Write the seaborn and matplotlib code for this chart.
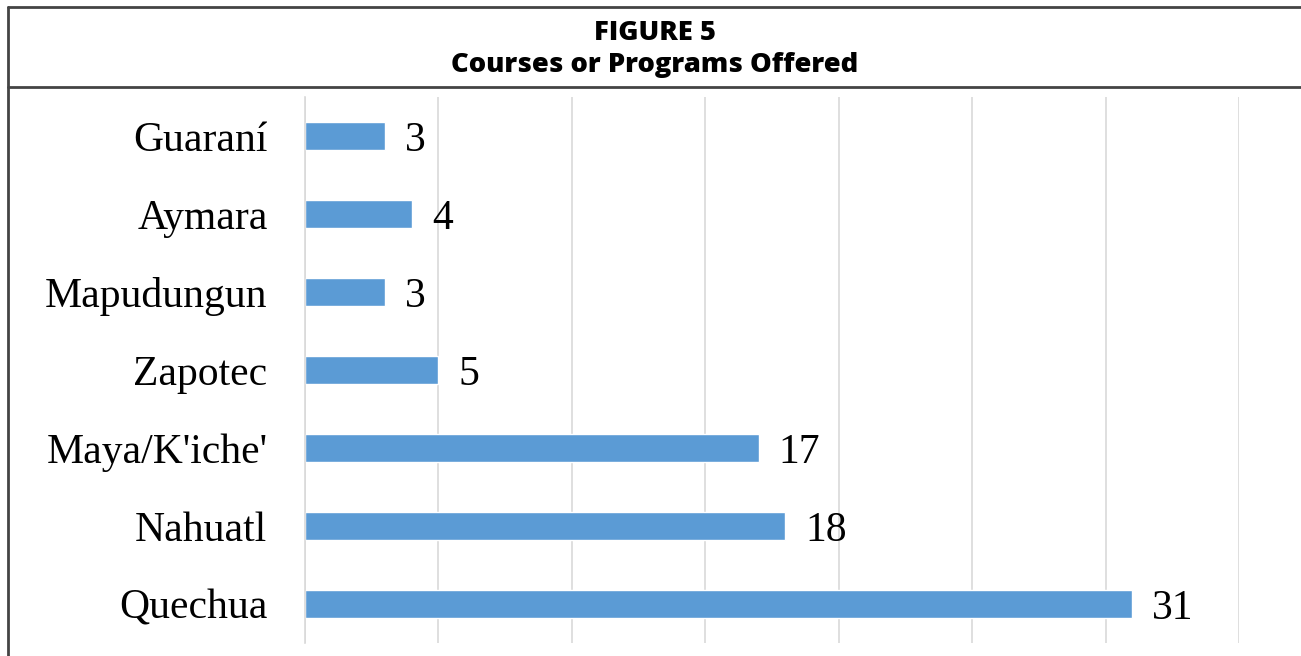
import matplotlib
matplotlib.use("Agg")
import matplotlib.pyplot as plt
import pandas as pd
import seaborn as sns

# data
languages = ["Guaraní", "Aymara", "Mapudungun", "Zapotec", "Maya/K'iche'", "Nahuatl", "Quechua"]
counts = [3, 4, 3, 5, 17, 18, 31]
df = pd.DataFrame({"language": languages, "count": counts})

sns.set_theme(style="white")
plt.rcParams["font.family"] = ["Liberation Serif", "DejaVu Serif"]
plt.rcParams["text.color"] = "black"
plt.rcParams["ytick.color"] = "black"

fig = plt.figure(figsize=(13.01, 6.56), dpi=100)
ax = fig.add_axes([305 / 1301, 1 - 643 / 656, (1239 - 305) / 1301, (643 - 97) / 656])

sns.barplot(data=df, x="count", y="language", orient="h", color="#5B9BD5",
            width=0.35, saturation=1, ax=ax)

ax.set_xlim(0, 35)
ax.set_ylim(6.5, -0.5)
ax.set_xticks(range(0, 36, 5))
ax.xaxis.grid(True, color="#D9D9D9", linewidth=1.2)
ax.set_axisbelow(True)
ax.tick_params(axis="x", bottom=False, labelbottom=False)
ax.tick_params(axis="y", left=False, labelsize=30, pad=21, labelcolor="black")
ax.set_xlabel("")
ax.set_ylabel("")
for s in ["top", "right", "bottom"]:
    ax.spines[s].set_visible(False)
ax.spines["left"].set_color("#D9D9D9")
ax.spines["left"].set_linewidth(1.2)

# value labels next to the bars
for i, v in enumerate(counts):
    ax.text(v + 0.75, i, str(v), va="center_baseline", ha="left", fontsize=30, color="black")

# title box with frame lines
fig.add_artist(plt.Line2D([8 / 1301, 1], [1 - 7 / 656] * 2, color="#444444", lw=2))
fig.add_artist(plt.Line2D([8 / 1301, 1], [1 - 87 / 656] * 2, color="#444444", lw=2))
fig.add_artist(plt.Line2D([8 / 1301] * 2, [0, 1 - 7 / 656], color="#444444", lw=2))
fig.text(655 / 1301, 1 - 33 / 656, "FIGURE 5", ha="center", va="center",
         fontsize=19.7, fontweight="heavy", family=["Open Sans", "DejaVu Sans"])
fig.text(655 / 1301, 1 - 65 / 656, "Courses or Programs Offered", ha="center", va="center",
         fontsize=19.7, fontweight="heavy", family=["Open Sans", "DejaVu Sans"])

fig.savefig("out.png", dpi=100)
